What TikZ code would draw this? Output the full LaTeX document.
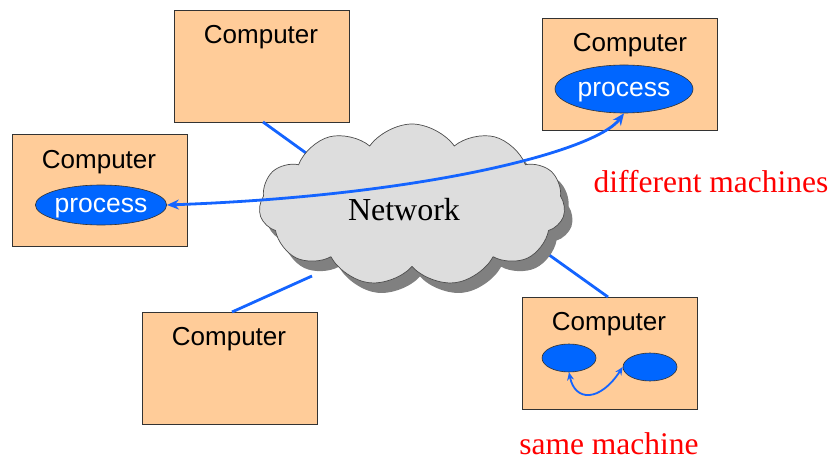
\documentclass[tikz,border=0pt]{standalone}
\usepackage{fontspec}
\setmainfont{Liberation Serif}
\newfontfamily\arialf{Liberation Sans}
\usetikzlibrary{shapes.symbols,shapes.geometric,arrows.meta,shadows}
\definecolor{peach}{RGB}{255,204,153}
\definecolor{pblue}{RGB}{0,102,255}
\definecolor{lblue}{RGB}{20,100,255}
\definecolor{cloudgray}{RGB}{221,221,221}
\begin{document}
\begin{tikzpicture}[x=1pt,y=-1pt,
  comp/.style={draw=black!80, fill=peach, line width=0.9pt, minimum width=175pt, minimum height=112pt, anchor=north west, inner sep=0pt},
  lbl/.style={font=\arialf\fontsize{26}{29}\selectfont, inner sep=0pt},
  proc/.style={ellipse, draw=black!80, fill=pblue, line width=0.6pt, inner sep=0pt, text depth=0pt, text=white, font=\arialf\fontsize{26.5}{29}\selectfont},
  link/.style={draw=lblue, line width=2.8pt},
  bigarrow/.style={draw=lblue, line width=2.8pt, {Stealth[length=12pt,width=10pt]}-{Stealth[length=12pt,width=10pt]}},
  smallarrow/.style={draw=lblue, line width=1.8pt, {Stealth[length=8pt,width=7pt]}-{Stealth[length=8pt,width=7pt]}},
  redtxt/.style={text=red, font=\fontsize{31.5}{35}\selectfont, inner sep=0pt}
]
\useasboundingbox (0,0) rectangle (835,462);

% boxes
\node[comp] (top) at (174,10) {};
\node[comp] (left) at (12,134) {};
\node[comp] (tr) at (542,18) {};
\node[comp] (bl) at (142,312) {};
\node[comp] (br) at (522,297) {};

% cloud-side ends of links
\coordinate (c1) at (306,153);
\coordinate (c2) at (312,276);
\coordinate (c3) at (538,247);
\coordinate (t1a) at (263,122);
\coordinate (t2a) at (232,312);
\coordinate (t3a) at (608,297);
\draw[link] (t1a) -- (c1);
\draw[link] (t2a) -- (c2);
\draw[link] (t3a) -- (c3);

% cloud
\node[cloud, cloud puffs=11, cloud puff arc=110, aspect=2, minimum width=306pt, minimum height=162pt,
  fill=cloudgray, draw=black!70, line width=0.7pt,
  drop shadow={shadow xshift=8pt, shadow yshift=-10pt, fill=black!50, opacity=1}] (net) at (412,205) {};
\node[font=\fontsize{32}{36}\selectfont, inner sep=0pt] (nettxt) at (404,210) {Network};

% labels
\node[lbl] (ltop) at (261,37) {Computer};
\node[lbl] (lleft) at (99,162) {Computer};
\node[lbl] (ltr) at (630,45) {Computer};
\node[lbl] (lbl2) at (229,339) {Computer};
\node[lbl] (lbr) at (609,324) {Computer};

% processes
\node[proc, minimum width=122pt, minimum height=40pt] (lp) at (101,205) {process};
\node[proc, minimum width=138pt, minimum height=48pt] (trp) at (624,89) {process};
\node[proc, minimum width=54pt, minimum height=28pt] (p1) at (569,358) {};
\node[proc, minimum width=54pt, minimum height=28pt] (p2) at (650,367) {};

% arrows
\draw[bigarrow] (lp.east) .. controls (420,196) and (595,152) .. (trp.south);
\draw[smallarrow] (p1.south) .. controls (575,402) and (600,402) .. (p2.west);

% red texts
\node[redtxt] (diff) at (711,182) {different machines};
\node[redtxt] (same) at (609,444) {same machine};
\end{tikzpicture}
\end{document}
